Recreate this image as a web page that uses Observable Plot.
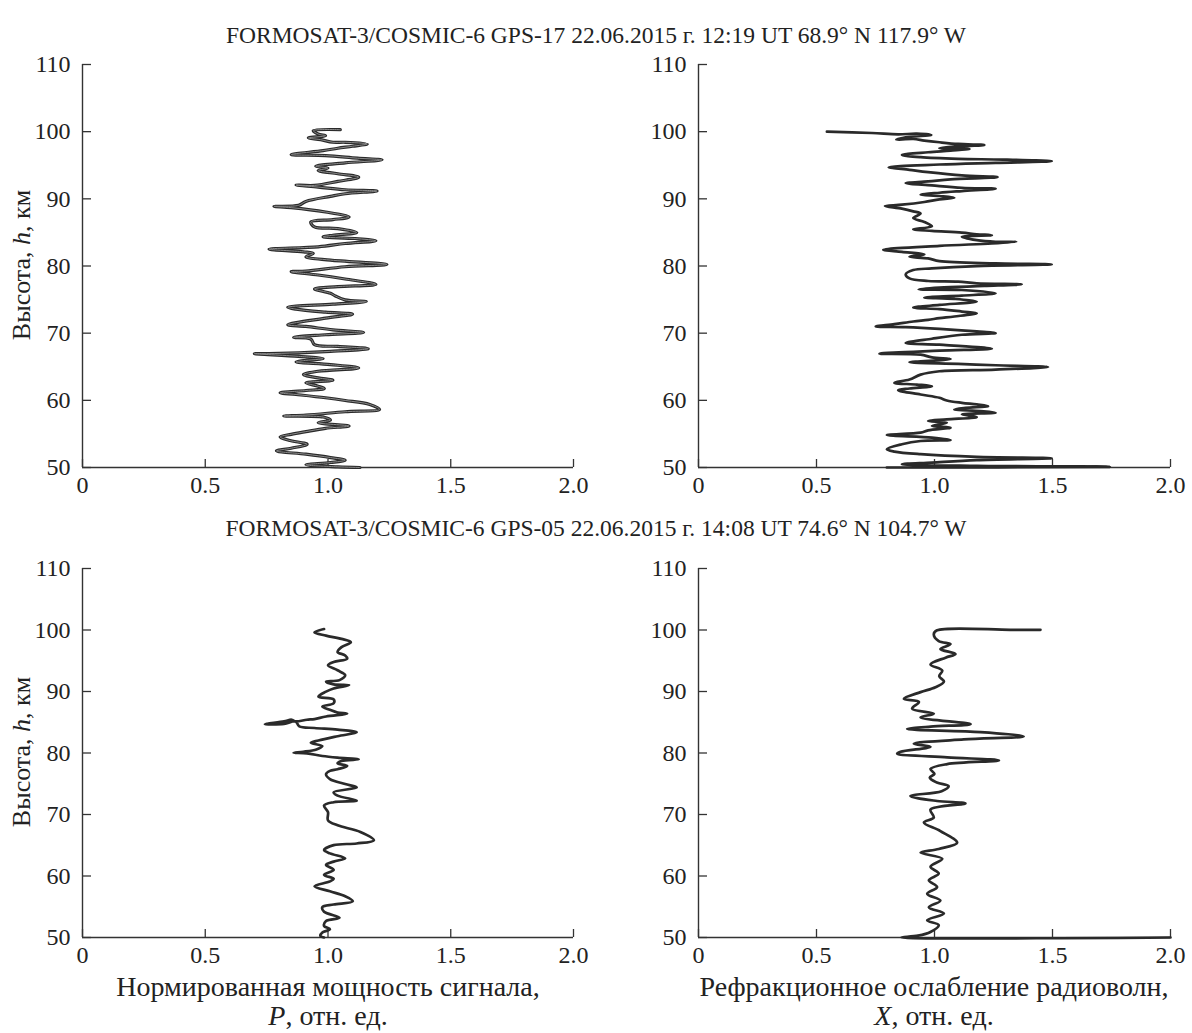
<!DOCTYPE html>
<html>
<head>
<meta charset="utf-8">
<script src="https://cdn.jsdelivr.net/npm/d3@7"></script>
<script src="https://cdn.jsdelivr.net/npm/@observablehq/plot@0.6"></script>
<style>
  html, body { margin: 0; padding: 0; background: #fff; }
  #chart { position: relative; width: 1192px; height: 1033px; background: #fff; font-family: "Liberation Serif", "DejaVu Serif", serif; color: #222; overflow: hidden; }
  .title { position: absolute; left: 0; width: 1192px; text-align: center; font-size: 23.5px; line-height: 26px; white-space: nowrap; }
  .xlab { position: absolute; width: 700px; text-align: center; font-size: 28px; line-height: 29px; white-space: nowrap; }
  .ylab { position: absolute; font-size: 26px; line-height: 28px; white-space: nowrap; transform: translate(-50%, -50%) rotate(-90deg); }
  svg { position: absolute; }
  svg text { font-family: "Liberation Serif", serif !important; }
</style>
</head>
<body>
<div id="chart"></div>
<script>
// ---- Data (h in km, value in relative units) ----
const xTicks = [0, 0.5, 1.0, 1.5, 2.0];
const yTicks = [50, 60, 70, 80, 90, 100, 110];

const titleTop = "FORMOSAT-3/COSMIC-6 GPS-17 22.06.2015 г. 12:19 UT 68.9° N 117.9° W";
const titleBottom = "FORMOSAT-3/COSMIC-6 GPS-05 22.06.2015 г. 14:08 UT 74.6° N 104.7° W";
const yLabel = "Высота, <i>h</i>, км";
const xLabelLeft = "Нормированная мощность сигнала,<br><i>P</i>, отн. ед.";
const xLabelRight = "Рефракционное ослабление радиоволн,<br><i>X</i>, отн. ед.";

// GPS-17, normalized signal power P
const gps17Power = [[100.3,1.05],[100.15,0.94],[99.65,0.96],[99.4,0.99],[99.06,0.92],[98.81,0.97],[98.42,1.02],[98.42,1.07],[98.17,1.16],[97.83,1.10],[97.53,1.04],[97.18,0.98],[96.59,0.85],[96.44,0.99],[96.05,1.12],[95.80,1.22],[95.36,1.07],[94.86,0.95],[94.57,1.00],[94.22,0.96],[93.73,1.04],[93.23,1.125],[92.59,1.04],[92.0,0.945],[92.05,0.87],[91.75,0.96],[91.35,1.07],[91.16,1.20],[90.76,1.07],[90.37,1.01],[89.62,0.91],[89.03,0.88],[88.88,0.78],[88.69,0.85],[88.04,0.99],[87.30,1.086],[86.91,1.02],[86.56,0.93],[85.82,0.945],[85.57,1.04],[84.98,1.117],[84.58,1.02],[84.34,0.98],[84.09,1.11],[83.75,1.195],[83.35,1.07],[82.86,0.96],[82.51,0.76],[82.11,0.90],[81.87,0.94],[81.37,0.91],[80.88,1.01],[80.24,1.24],[79.89,1.07],[79.25,0.91],[79.15,0.85],[78.66,0.96],[78.06,1.07],[77.27,1.195],[76.93,1.04],[76.58,0.945],[75.94,1.01],[75.54,1.03],[74.95,1.07],[74.70,1.156],[74.31,1.02],[73.86,0.836],[73.57,0.87],[73.12,0.99],[72.83,1.10],[72.23,0.99],[71.25,0.836],[71.0,0.91],[70.50,1.02],[70.11,1.145],[69.76,0.99],[69.37,0.86],[69.12,0.93],[68.28,0.945],[68.03,1.04],[67.69,1.164],[67.29,1.01],[66.95,0.76],[66.95,0.70],[66.55,0.88],[66.21,0.98],[65.91,0.90],[65.71,0.87],[65.32,1.01],[64.82,1.125],[64.33,0.96],[63.83,0.90],[63.34,0.96],[62.99,1.02],[62.60,0.91],[62.10,0.96],[61.76,0.985],[61.46,0.91],[61.12,0.805],[60.87,0.87],[60.38,0.99],[59.98,1.07],[59.39,1.17],[58.65,1.21],[58.30,1.07],[57.81,0.91],[57.66,0.82],[57.51,0.98],[57.07,1.01],[56.67,0.96],[56.18,1.086],[55.83,0.99],[55.34,0.91],[54.94,0.85],[54.55,0.805],[54.05,0.84],[53.46,0.915],[52.87,0.85],[52.47,0.79],[51.98,0.91],[51.48,1.01],[51.09,1.07],[50.74,1.01],[50.40,0.91],[50.10,1.04],[50.0,1.13]];

// GPS-17, refractive attenuation X
const gps17Refr = [[100.0,0.544],[99.80,0.735],[99.60,0.846],[99.70,0.925],[99.51,0.986],[99.16,0.878],[98.81,0.838],[98.91,0.91],[98.67,0.957],[98.42,1.021],[98.17,1.10],[98.02,1.211],[97.83,1.116],[97.53,1.021],[97.43,1.148],[97.18,1.068],[96.94,0.973],[96.54,0.862],[96.20,0.941],[95.95,1.10],[95.85,1.29],[95.60,1.497],[95.36,1.259],[95.11,1.021],[94.71,0.806],[94.32,0.894],[93.97,0.973],[93.48,1.116],[93.23,1.267],[92.89,1.068],[92.59,0.973],[92.34,0.878],[92.0,0.989],[91.65,1.116],[91.50,1.259],[91.16,1.116],[90.91,1.021],[90.61,0.941],[90.42,1.021],[90.17,1.084],[89.92,1.021],[89.53,0.957],[89.13,0.862],[88.93,0.790],[88.54,0.862],[88.14,0.91],[87.80,0.941],[87.15,0.91],[86.56,0.957],[85.92,0.989],[85.47,0.91],[85.23,0.989],[84.98,1.116],[84.73,1.179],[84.58,1.243],[84.34,1.116],[83.84,1.179],[83.60,1.259],[83.60,1.346],[83.35,1.243],[83.0,1.021],[82.41,0.783],[82.11,0.862],[81.72,0.957],[81.37,0.894],[81.13,0.973],[80.73,1.021],[80.39,1.259],[80.24,1.497],[79.99,1.179],[79.64,0.989],[79.40,0.91],[78.75,0.878],[78.16,0.894],[77.77,0.973],[77.67,1.10],[77.42,1.179],[77.27,1.37],[77.03,1.211],[76.78,1.021],[76.53,0.933],[76.43,1.116],[75.94,1.259],[75.59,1.116],[75.30,0.957],[75.10,1.084],[74.70,1.179],[74.21,1.021],[73.81,0.91],[73.57,1.021],[73.22,1.116],[72.97,1.179],[72.48,1.084],[72.23,1.021],[71.99,0.973],[71.74,0.91],[71.34,0.830],[71.0,0.751],[70.90,0.878],[70.65,1.021],[70.26,1.179],[70.01,1.259],[69.76,1.116],[69.17,0.989],[68.53,0.878],[68.28,1.021],[67.69,1.243],[67.39,1.021],[66.95,0.767],[66.80,0.941],[66.40,0.989],[66.16,1.068],[65.66,0.894],[65.42,1.10],[65.22,1.259],[64.97,1.481],[64.58,1.259],[64.33,1.021],[63.83,0.941],[63.09,0.894],[62.60,0.830],[62.35,0.925],[62.10,0.989],[61.76,0.894],[61.51,0.846],[60.87,0.941],[60.38,1.021],[59.98,1.052],[59.63,1.116],[59.39,1.179],[59.14,1.227],[58.89,1.132],[58.65,1.084],[58.40,1.195],[58.15,1.259],[57.91,1.116],[57.51,1.179],[57.16,1.052],[56.92,0.973],[56.67,1.052],[56.18,0.989],[55.93,1.068],[55.53,0.973],[55.19,0.941],[54.84,0.798],[54.45,0.989],[54.10,1.068],[53.95,0.941],[53.46,0.862],[52.72,0.798],[52.37,0.83],[51.98,0.941],[51.58,1.179],[51.38,1.497],[51.09,1.179],[50.74,0.989],[50.49,0.862],[50.25,1.179],[50.10,1.743],[50.0,0.798]];

// GPS-05, normalized signal power P
const gps05Power = [[100.16,0.984],[99.62,0.945],[99.09,0.992],[98.55,1.055],[98.02,1.093],[97.21,1.055],[96.41,1.039],[95.87,1.070],[95.33,1.078],[94.80,1.023],[94.26,1.0],[93.45,1.039],[92.65,1.070],[91.85,1.047],[91.58,0.992],[91.15,1.023],[91.04,1.086],[90.50,1.023],[89.97,0.992],[89.16,0.961],[88.73,1.023],[88.09,1.023],[87.55,0.977],[87.02,1.008],[86.59,1.039],[86.37,1.078],[85.94,0.992],[85.52,0.945],[85.41,0.914],[85.14,0.868],[85.41,0.852],[85.14,0.821],[84.71,0.743],[84.75,0.821],[85.14,0.868],[84.33,0.883],[84.07,0.945],[83.80,1.039],[83.37,1.117],[82.73,1.039],[82.03,0.961],[81.65,0.930],[81.12,0.977],[80.58,0.953],[80.20,0.899],[80.04,0.860],[79.94,0.914],[79.51,0.977],[79.24,1.039],[78.97,1.125],[78.70,1.055],[78.33,1.039],[77.90,1.078],[77.36,1.039],[77.09,1.008],[76.56,0.992],[75.75,1.008],[74.95,1.070],[74.41,1.117],[73.61,1.023],[73.07,1.039],[72.26,1.117],[72.0,1.023],[71.46,0.984],[70.39,1.0],[69.05,1.0],[68.24,1.039],[67.17,1.132],[65.83,1.187],[65.29,1.117],[65.02,1.023],[64.22,0.984],[63.68,1.008],[62.88,1.070],[62.34,1.023],[61.80,0.992],[61.0,1.023],[60.19,0.984],[59.55,1.023],[59.12,1.008],[58.32,0.945],[57.51,1.008],[56.71,1.070],[55.90,1.101],[55.36,1.023],[54.94,0.977],[54.18,0.984],[53.22,1.047],[52.68,0.992],[51.88,0.984],[51.34,1.008],[50.80,0.977],[50.27,0.969],[50.0,0.984]];

// GPS-05, refractive attenuation X
const gps05Refr = [[100.03,1.449],[100.03,1.322],[99.95,1.011],[99.3,0.997],[98.2,1.018],[97.7,1.068],[96.9,1.025],[96.1,1.089],[95.5,1.047],[94.4,0.983],[93.4,1.033],[92.5,1.02],[91.6,1.040],[90.7,1.004],[89.9,0.941],[88.8,0.870],[88.3,0.934],[87.2,0.905],[86.4,0.997],[85.8,0.941],[84.7,1.153],[84.3,0.983],[83.9,0.884],[83.4,1.195],[82.7,1.378],[82.2,1.124],[81.5,0.912],[81.0,0.983],[80.2,0.856],[79.9,0.842],[79.3,1.054],[78.8,1.273],[78.2,1.054],[77.4,0.983],[76.6,1.0],[76.0,0.98],[75.2,1.01],[74.6,1.06],[73.8,1.03],[73.0,0.898],[72.2,1.011],[71.8,1.131],[70.8,0.983],[69.5,0.997],[68.7,0.955],[67.3,1.025],[65.4,1.096],[64.4,1.018],[63.8,0.941],[62.8,1.033],[61.5,0.983],[60.4,1.018],[59.3,0.976],[58.2,1.011],[57.1,0.969],[56.0,1.025],[54.9,0.976],[53.9,1.04],[52.8,0.969],[52.0,1.018],[50.9,0.983],[50.3,0.93],[50.0,0.86],[50.0,2.0]];

// ---- Drawing ----
const toRows = arr => arr.map(([h, v]) => ({h, v}));
const FONT = "Liberation Serif";
const fmtX = d => d === 0 ? "0" : d.toFixed(1);

function panel(rows, o) {
  const marks = [
    Plot.ruleX([0], {stroke: "#333", strokeWidth: 1.4}),
    Plot.ruleY([50], {stroke: "#333", strokeWidth: 1.4}),
    Plot.axisX(xTicks, {tickSize: -8, tickFormat: () => "", stroke: "#333", strokeWidth: 1.3, label: null}),
    Plot.axisX(xTicks, {tickSize: 0, tickPadding: 8, tickFormat: fmtX, fontSize: 24, fill: "#222", label: null, fontFamily: FONT}),
    Plot.axisY(yTicks, {tickSize: -9, tickFormat: () => "", stroke: "#333", strokeWidth: 1.3, label: null}),
    Plot.axisY(yTicks, {tickSize: 0, tickPadding: 12, tickFormat: d => String(d), fontSize: 24, fill: "#222", label: null, fontFamily: FONT}),
    Plot.line(rows, {x: "v", y: "h", stroke: "#2a2a2a", strokeWidth: o.sw, strokeLinejoin: "round", curve: "catmull-rom"})
  ];
  if (o.inner) marks.push(Plot.line(rows, {x: "v", y: "h", stroke: "#8a8a8a", strokeWidth: o.inner, strokeLinejoin: "round", curve: "catmull-rom"}));
  const svg = Plot.plot({
    width: o.width, height: o.height,
    marginLeft: o.ml, marginRight: o.mr, marginTop: o.mt, marginBottom: o.mb,
    style: {fontFamily: FONT, fontSize: "24px", background: "transparent", color: "#222", overflow: "visible"},
    x: {domain: [0, 2], label: null},
    y: {domain: [50, 110], label: null},
    marks
  });
  svg.style.position = "absolute";
  svg.style.left = o.left + "px";
  svg.style.top = o.top + "px";
  return svg;
}

const chart = document.getElementById("chart");
chart.appendChild(panel(toRows(gps17Power), {left: 0, top: 50, width: 600, height: 460, ml: 82, mr: 27, mt: 14, mb: 43, sw: 3.2, inner: 1.0}));
chart.appendChild(panel(toRows(gps17Refr), {left: 616, top: 50, width: 576, height: 460, ml: 82, mr: 22, mt: 14, mb: 43, sw: 2.7}));
chart.appendChild(panel(toRows(gps05Power), {left: 0, top: 540, width: 600, height: 437, ml: 82, mr: 27, mt: 28, mb: 40, sw: 2.7}));
chart.appendChild(panel(toRows(gps05Refr), {left: 616, top: 540, width: 576, height: 437, ml: 82, mr: 22, mt: 28, mb: 40, sw: 2.7}));

function addDiv(cls, html, css) {
  const d = document.createElement("div");
  d.className = cls;
  d.innerHTML = html;
  Object.assign(d.style, css);
  chart.appendChild(d);
}
addDiv("title", titleTop, {top: "22px"});
addDiv("title", titleBottom, {top: "515px"});
addDiv("ylab", yLabel, {left: "22px", top: "265px"});
addDiv("ylab", yLabel, {left: "22px", top: "752px"});
addDiv("xlab", xLabelLeft, {left: (328 - 350) + "px", top: "972px"});
addDiv("xlab", xLabelRight, {left: (934 - 350) + "px", top: "972px"});
</script>
</body>
</html>
